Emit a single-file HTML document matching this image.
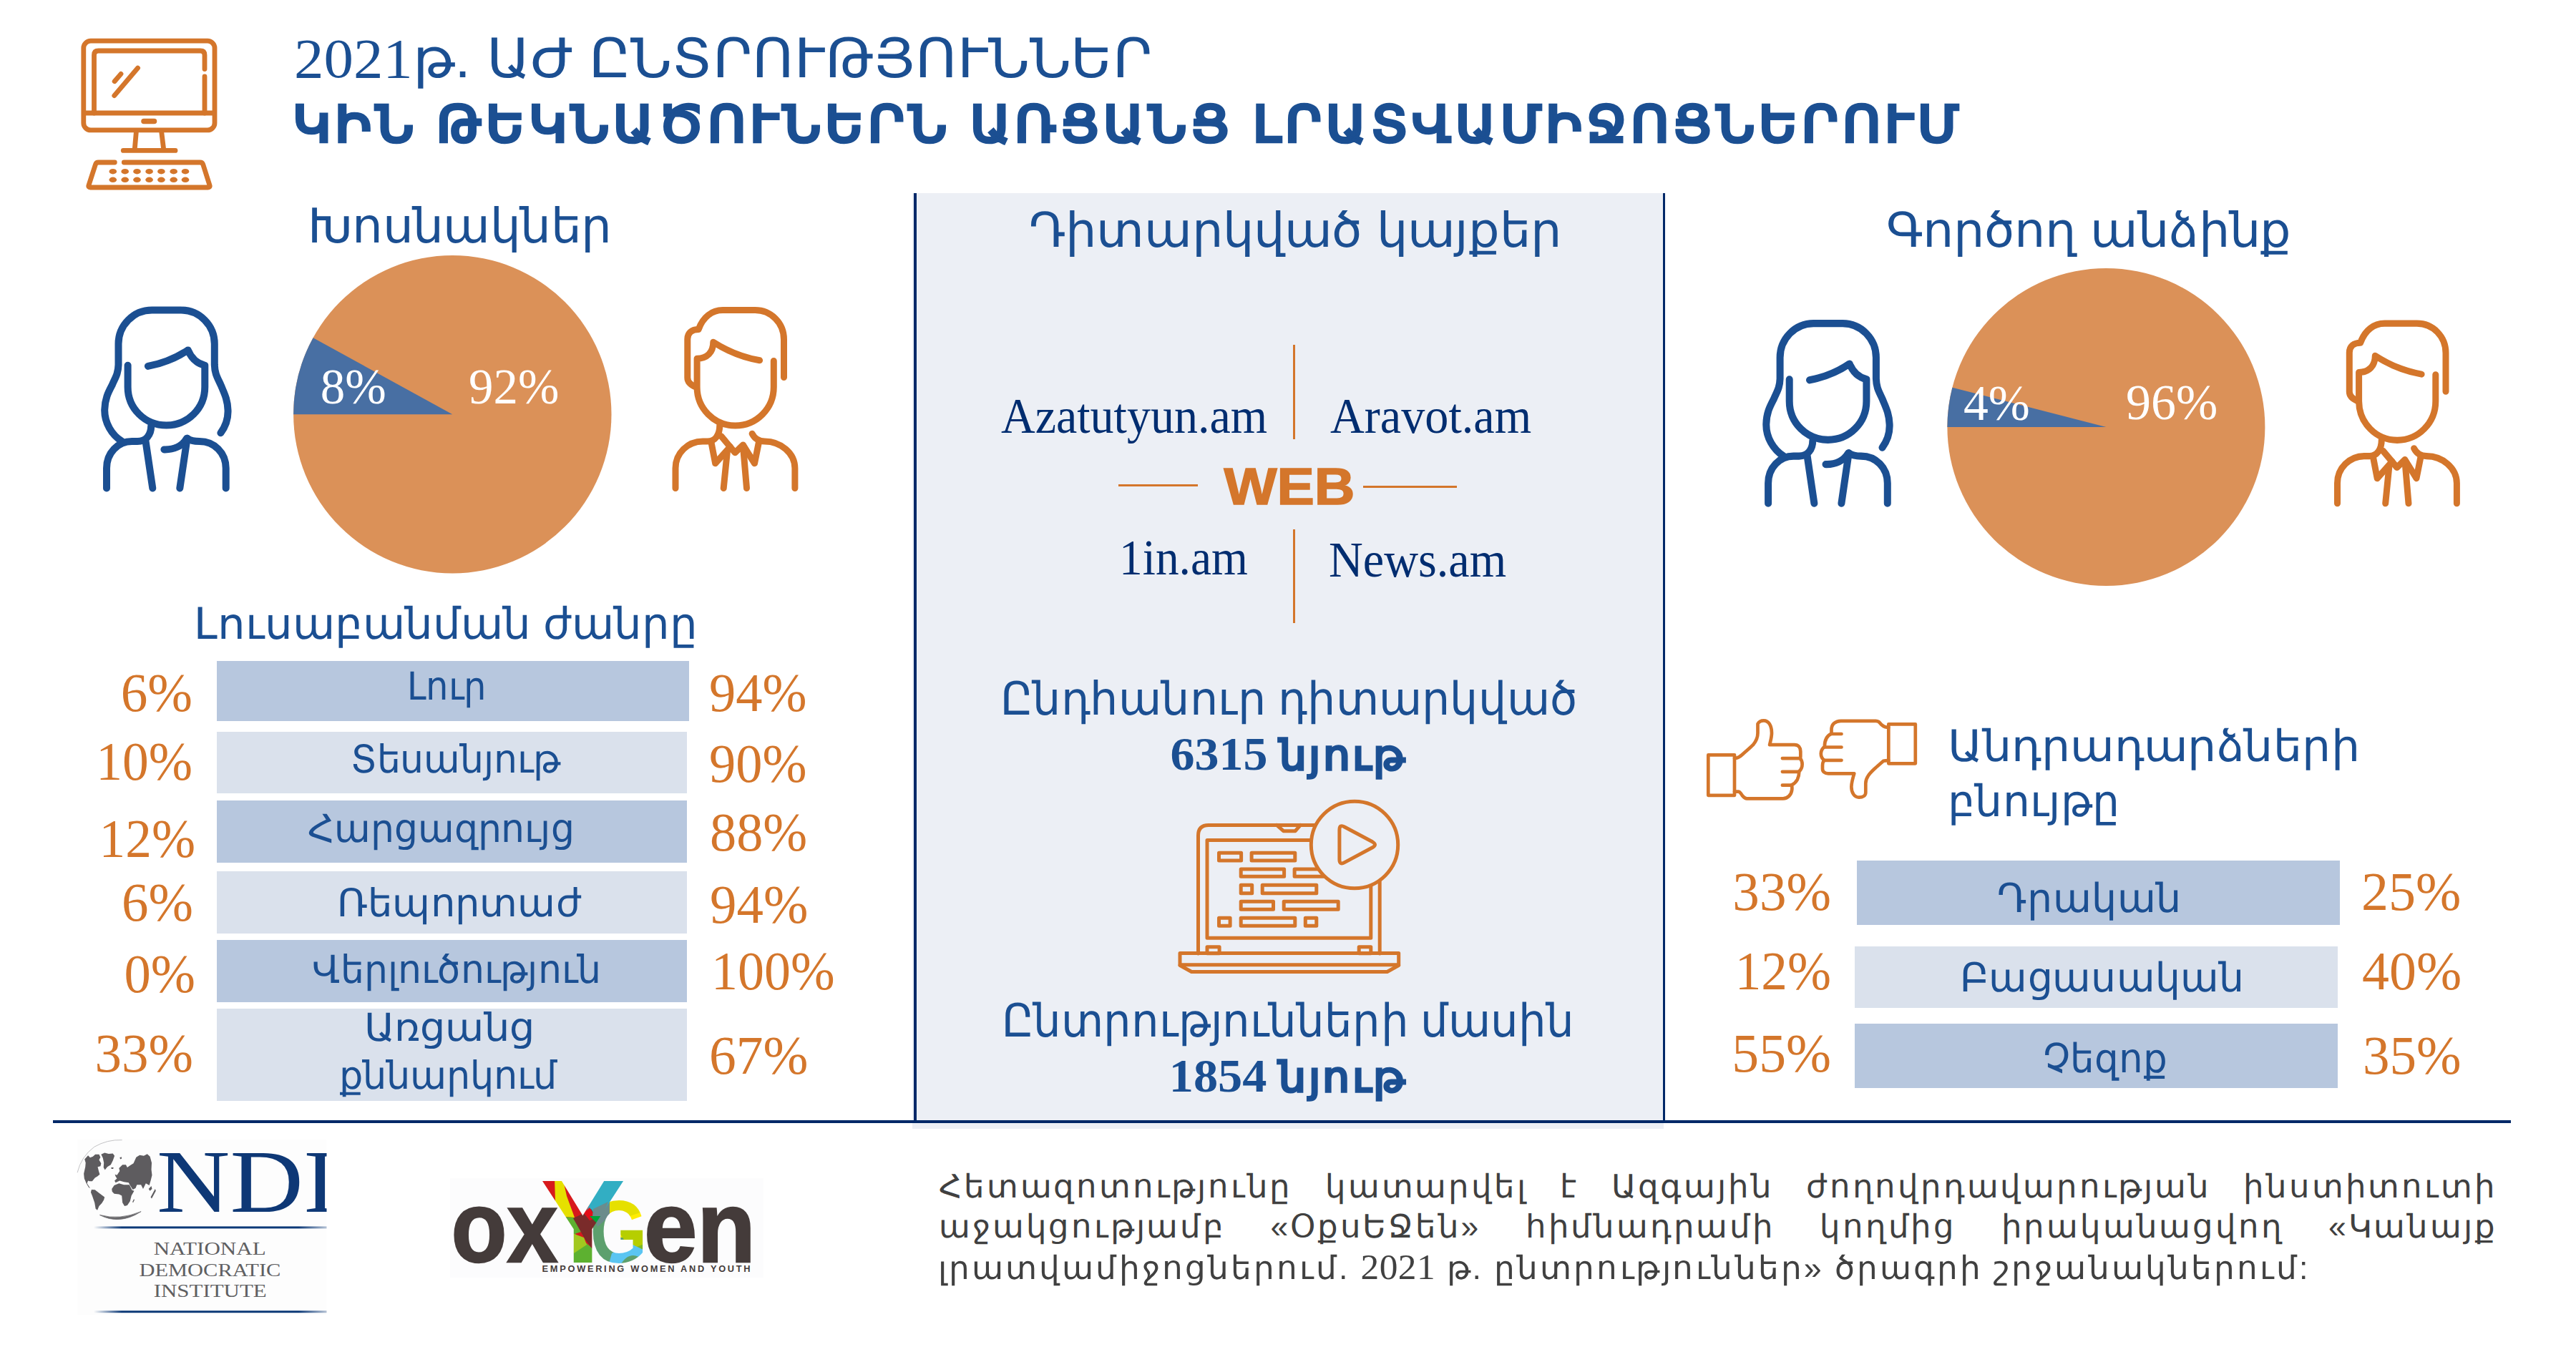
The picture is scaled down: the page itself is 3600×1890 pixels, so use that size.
<!DOCTYPE html>
<html lang="hy"><head><meta charset="utf-8"><title>2021թ. ԱԺ ընտրություններ</title>
<style>
html,body{margin:0;padding:0;background:#fff}
body{width:3600px;height:1890px;overflow:hidden;font-family:"Liberation Sans",sans-serif}
#page{position:relative;width:3600px;height:1890px;overflow:hidden;background:#fff}
.r{position:absolute}
.t{position:absolute;z-index:2;white-space:nowrap;line-height:1;font-family:"Liberation Sans",sans-serif}
.sf{font-family:"Liberation Serif",serif}
svg{position:absolute;left:0;top:0}
</style></head>
<body>
<div id="page">
<div class="r" style="left:1275px;top:270px;width:1050px;height:1308px;background:#ECEFF5"></div>
<div class="r" style="left:1277px;top:269.8px;width:3.6px;height:1299px;background:#002868"></div>
<div class="r" style="left:2323.6px;top:269.8px;width:3.3px;height:1299px;background:#002868"></div>
<div class="r" style="left:73.7px;top:1566.2px;width:3435px;height:3.8px;background:#002868"></div>
<div class="r" style="left:303.2px;top:924.1px;width:659.8px;height:83.5px;background:#B7C7DE"></div>
<div class="r" style="left:303.2px;top:1023.2px;width:656.5px;height:86.29999999999995px;background:#DAE1EC"></div>
<div class="r" style="left:303.2px;top:1119.3px;width:656.5px;height:86.40000000000009px;background:#B7C7DE"></div>
<div class="r" style="left:303.2px;top:1218.1px;width:656.5px;height:86.60000000000014px;background:#DAE1EC"></div>
<div class="r" style="left:303.2px;top:1314px;width:656.5px;height:86.5px;background:#B7C7DE"></div>
<div class="r" style="left:303.2px;top:1410.1px;width:656.5px;height:128.60000000000014px;background:#DAE1EC"></div>
<div class="r" style="left:2594.9px;top:1203px;width:675.1px;height:89.6px;background:#B7C7DE"></div>
<div class="r" style="left:2592.2px;top:1323.2px;width:674.6px;height:86.3px;background:#DAE1EC"></div>
<div class="r" style="left:2592.2px;top:1431.4px;width:674.6px;height:89.2px;background:#B7C7DE"></div>
<div class="t" id="t0" style="left:410.85px;top:41.64px;width:2400px;font-size:76px;color:#1B4F92;text-align:left;transform:scaleX(1.0493);transform-origin:0 0;"><span><span class="sf" style='font-size:79px;'>2021</span>թ. ԱԺ ԸՆՏՐՈՒԹՅՈՒՆՆԵՐ</span></div>
<div class="t" id="t1" style="left:408.88px;top:139.05px;width:2900px;font-size:70px;color:#1B4F92;text-align:left;letter-spacing:6px;transform:scaleX(1.0416);transform-origin:0 0;-webkit-text-stroke:4.6px #1B4F92;"><span>ԿԻՆ ԹԵԿՆԱԾՈՒՆԵՐՆ ԱՌՑԱՆՑ ԼՐԱՏՎԱՄԻՋՈՑՆԵՐՈՒՄ</span></div>
<div class="t" id="t2" style="left:-158.20px;top:282.28px;width:1600px;font-size:67px;color:#1B4F92;text-align:center;transform:scaleX(1.0093);transform-origin:50% 0;"><span>Խոսնակներ</span></div>
<div class="t" id="t3" style="left:-176.70px;top:842.16px;width:1600px;font-size:61px;color:#1B4F92;text-align:center;transform:scaleX(0.9993);transform-origin:50% 0;"><span>Լուսաբանման ժանրը</span></div>
<div class="t" id="t4" style="left:1009.62px;top:288.48px;width:1600px;font-size:67px;color:#1B4F92;text-align:center;transform:scaleX(1.0256);transform-origin:50% 0;"><span>Դիտարկված կայքեր</span></div>
<div class="t" id="t5" style="left:2118.51px;top:288.08px;width:1600px;font-size:67px;color:#1B4F92;text-align:center;transform:scaleX(1.0221);transform-origin:50% 0;"><span>Գործող անձինք</span></div>
<div class="t" id="t6" style="left:2721.79px;top:1013.16px;width:1600px;font-size:61px;color:#1B4F92;text-align:left;transform:scaleX(1.0382);transform-origin:0 0;"><span>Անդրադարձների</span></div>
<div class="t" id="t7" style="left:2722.10px;top:1090.46px;width:1600px;font-size:61px;color:#1B4F92;text-align:left;transform:scaleX(0.9813);transform-origin:0 0;"><span>բնույթը</span></div>
<div class="t sf" id="t8" style="left:447.80px;top:506.61px;width:300px;font-size:69px;color:#fff;text-align:left;"><span>8%</span></div>
<div class="t sf" id="t9" style="left:655.00px;top:506.61px;width:300px;font-size:69px;color:#fff;text-align:left;transform:scaleX(0.9984);transform-origin:0 0;"><span>92%</span></div>
<div class="t sf" id="t10" style="left:2744.38px;top:529.51px;width:300px;font-size:69px;color:#fff;text-align:left;transform:scaleX(1.0091);transform-origin:0 0;"><span>4%</span></div>
<div class="t sf" id="t11" style="left:2970.77px;top:528.71px;width:300px;font-size:69px;color:#fff;text-align:left;transform:scaleX(1.0132);transform-origin:0 0;"><span>96%</span></div>
<div class="t sf" id="t12" style="left:-30.65px;top:929.81px;width:300px;font-size:77px;color:#D4762B;text-align:right;transform:scaleX(0.9773);transform-origin:100% 0;"><span>6%</span></div>
<div class="t sf" id="t13" style="left:-30.70px;top:1025.81px;width:300px;font-size:77px;color:#D4762B;text-align:right;transform:scaleX(0.9549);transform-origin:100% 0;"><span>10%</span></div>
<div class="t sf" id="t14" style="left:-27.12px;top:1133.51px;width:300px;font-size:77px;color:#D4762B;text-align:right;transform:scaleX(0.9523);transform-origin:100% 0;"><span>12%</span></div>
<div class="t sf" id="t15" style="left:-30.45px;top:1223.41px;width:300px;font-size:77px;color:#D4762B;text-align:right;transform:scaleX(0.9735);transform-origin:100% 0;"><span>6%</span></div>
<div class="t sf" id="t16" style="left:-27.27px;top:1322.71px;width:300px;font-size:77px;color:#D4762B;text-align:right;transform:scaleX(0.9694);transform-origin:100% 0;"><span>0%</span></div>
<div class="t sf" id="t17" style="left:-30.45px;top:1433.81px;width:300px;font-size:77px;color:#D4762B;text-align:right;transform:scaleX(0.9735);transform-origin:100% 0;"><span>33%</span></div>
<div class="t sf" id="t18" style="left:991.48px;top:929.81px;width:300px;font-size:77px;color:#D4762B;text-align:left;transform:scaleX(0.9672);transform-origin:0 0;"><span>94%</span></div>
<div class="t sf" id="t19" style="left:991.48px;top:1029.11px;width:300px;font-size:77px;color:#D4762B;text-align:left;transform:scaleX(0.9672);transform-origin:0 0;"><span>90%</span></div>
<div class="t sf" id="t20" style="left:992.11px;top:1124.71px;width:300px;font-size:77px;color:#D4762B;text-align:left;transform:scaleX(0.9647);transform-origin:0 0;"><span>88%</span></div>
<div class="t sf" id="t21" style="left:991.86px;top:1226.01px;width:300px;font-size:77px;color:#D4762B;text-align:left;transform:scaleX(0.9730);transform-origin:0 0;"><span>94%</span></div>
<div class="t sf" id="t22" style="left:993.64px;top:1319.11px;width:300px;font-size:77px;color:#D4762B;text-align:left;transform:scaleX(0.9614);transform-origin:0 0;"><span>100%</span></div>
<div class="t sf" id="t23" style="left:990.86px;top:1436.51px;width:300px;font-size:77px;color:#D4762B;text-align:left;transform:scaleX(0.9801);transform-origin:0 0;"><span>67%</span></div>
<div class="t" id="t24" style="left:223.83px;top:932.39px;width:800px;font-size:54px;color:#1B4F92;text-align:center;transform:scaleX(0.9198);transform-origin:50% 0;"><span>Լուր</span></div>
<div class="t" id="t25" style="left:237.28px;top:1033.59px;width:800px;font-size:54px;color:#1B4F92;text-align:center;transform:scaleX(0.9638);transform-origin:50% 0;"><span>Տեսանյութ</span></div>
<div class="t" id="t26" style="left:215.86px;top:1130.59px;width:800px;font-size:54px;color:#1B4F92;text-align:center;transform:scaleX(0.9638);transform-origin:50% 0;"><span>Հարցազրույց</span></div>
<div class="t" id="t27" style="left:242.29px;top:1235.19px;width:800px;font-size:54px;color:#1B4F92;text-align:center;transform:scaleX(1.0060);transform-origin:50% 0;"><span>Ռեպորտաժ</span></div>
<div class="t" id="t28" style="left:238.28px;top:1327.69px;width:800px;font-size:54px;color:#1B4F92;text-align:center;transform:scaleX(0.9643);transform-origin:50% 0;"><span>Վերլուծություն</span></div>
<div class="t" id="t29" style="left:227.89px;top:1408.69px;width:800px;font-size:54px;color:#1B4F92;text-align:center;transform:scaleX(1.0314);transform-origin:50% 0;"><span>Առցանց</span></div>
<div class="t" id="t30" style="left:226.42px;top:1475.59px;width:800px;font-size:54px;color:#1B4F92;text-align:center;transform:scaleX(0.9713);transform-origin:50% 0;"><span>քննարկում</span></div>
<div class="t sf" id="t31" style="left:2258.95px;top:1208.31px;width:300px;font-size:77px;color:#D4762B;text-align:right;transform:scaleX(0.9750);transform-origin:100% 0;"><span>33%</span></div>
<div class="t sf" id="t32" style="left:2258.90px;top:1319.11px;width:300px;font-size:77px;color:#D4762B;text-align:right;transform:scaleX(0.9511);transform-origin:100% 0;"><span>12%</span></div>
<div class="t sf" id="t33" style="left:2258.96px;top:1433.91px;width:300px;font-size:77px;color:#D4762B;text-align:right;transform:scaleX(0.9822);transform-origin:100% 0;"><span>55%</span></div>
<div class="t sf" id="t34" style="left:3300.43px;top:1208.31px;width:300px;font-size:77px;color:#D4762B;text-align:left;transform:scaleX(0.9875);transform-origin:0 0;"><span>25%</span></div>
<div class="t sf" id="t35" style="left:3301.02px;top:1319.11px;width:300px;font-size:77px;color:#D4762B;text-align:left;transform:scaleX(0.9854);transform-origin:0 0;"><span>40%</span></div>
<div class="t sf" id="t36" style="left:3302.08px;top:1437.11px;width:300px;font-size:77px;color:#D4762B;text-align:left;transform:scaleX(0.9743);transform-origin:0 0;"><span>35%</span></div>
<div class="t" id="t37" style="left:2519.68px;top:1227.60px;width:800px;font-size:56px;color:#1B4F92;text-align:center;transform:scaleX(0.9889);transform-origin:50% 0;"><span>Դրական</span></div>
<div class="t" id="t38" style="left:2538.00px;top:1338.70px;width:800px;font-size:56px;color:#1B4F92;text-align:center;transform:scaleX(0.9848);transform-origin:50% 0;"><span>Բացասական</span></div>
<div class="t" id="t39" style="left:2541.61px;top:1452.30px;width:800px;font-size:56px;color:#1B4F92;text-align:center;transform:scaleX(0.9506);transform-origin:50% 0;"><span>Չեզոք</span></div>
<div class="t sf" id="t40" style="left:1398.61px;top:547.91px;width:700px;font-size:69px;color:#002D70;text-align:left;transform:scaleX(0.9567);transform-origin:0 0;"><span>Azatutyun.am</span></div>
<div class="t sf" id="t41" style="left:1859.00px;top:547.91px;width:700px;font-size:69px;color:#002D70;text-align:left;transform:scaleX(0.9592);transform-origin:0 0;"><span>Aravot.am</span></div>
<div class="t sf" id="t42" style="left:1563.70px;top:746.21px;width:700px;font-size:69px;color:#002D70;text-align:left;transform:scaleX(0.9481);transform-origin:0 0;"><span>1in.am</span></div>
<div class="t sf" id="t43" style="left:1856.65px;top:749.31px;width:700px;font-size:69px;color:#002D70;text-align:left;transform:scaleX(0.9591);transform-origin:0 0;"><span>News.am</span></div>
<div class="t" id="t44" style="left:1552.13px;top:643.21px;width:500px;font-size:73px;color:#D4762B;text-align:center;font-weight:bold;transform:scaleX(1.0751);transform-origin:50% 0;-webkit-text-stroke:1.6px #D4762B;"><span>WEB</span></div>
<div class="r" style="left:1806.8px;top:481.5px;width:3.4px;height:132.1px;background:#D4762B"></div>
<div class="r" style="left:1806.8px;top:739.8px;width:3.4px;height:131.7px;background:#D4762B"></div>
<div class="r" style="left:1562.6px;top:677px;width:111.1px;height:3.4px;background:#D4762B"></div>
<div class="r" style="left:1904.7px;top:678.5px;width:131.8px;height:3.4px;background:#D4762B"></div>
<div class="t" id="t45" style="left:1000.92px;top:944.92px;width:1600px;font-size:64px;color:#1B4F92;text-align:center;transform:scaleX(0.9676);transform-origin:50% 0;"><span>Ընդհանուր դիտարկված</span></div>
<div class="t" id="t46" style="left:1400.88px;top:1021.43px;width:800px;font-size:58px;color:#1B4F92;text-align:center;transform:scaleX(1.0305);transform-origin:50% 0;"><span><b class="sf" style="font-size:66px">6315</b> <span style="-webkit-text-stroke:3.4px #1B4F92;letter-spacing:3px">նյութ</span></span></div>
<div class="t" id="t47" style="left:1000.18px;top:1394.92px;width:1600px;font-size:64px;color:#1B4F92;text-align:center;transform:scaleX(0.9515);transform-origin:50% 0;"><span>Ընտրությունների մասին</span></div>
<div class="t" id="t48" style="left:1399.92px;top:1471.42px;width:800px;font-size:58px;color:#1B4F92;text-align:center;transform:scaleX(1.0352);transform-origin:50% 0;"><span><b class="sf" style="font-size:66px">1854</b> <span style="-webkit-text-stroke:3.4px #1B4F92;letter-spacing:3px">նյութ</span></span></div>
<div class="t" id="t49" style="left:1312.30px;top:1637.23px;width:2177.1px;font-size:44.5px;color:#404040;text-align:left;letter-spacing:2.8px;text-align-last:justify;"><span>Հետազոտությունը կատարվել է Ազգային ժողովրդավարության ինստիտուտի</span></div>
<div class="t" id="t50" style="left:1312.30px;top:1693.43px;width:2177.1px;font-size:44.5px;color:#404040;text-align:left;letter-spacing:2.8px;text-align-last:justify;"><span>աջակցությամբ «ՕքսԵՋեն» հիմնադրամի կողմից իրականացվող «Կանայք</span></div>
<div class="t" id="t51" style="left:1311.37px;top:1745.69px;width:2400px;font-size:44.5px;color:#404040;text-align:left;letter-spacing:2.8px;transform:scaleX(1.0077);transform-origin:0 0;"><span>լրատվամիջոցներում. <span class="sf" style="font-size:51px;letter-spacing:0.5px">2021</span> թ. ընտրություններ» ծրագրի շրջանակներում:</span></div>
<svg width="3600" height="1890" viewBox="0 0 3600 1890">
<defs>
  <!-- woman icon, local coords (origin = top-left of 230x290 box) -->
  <g id="woman" fill="none" stroke="#1B4F92" stroke-width="10" stroke-linecap="round" stroke-linejoin="round">
    <path d="M188.4 195.2 C196 185 199 174 198.5 163 C198 148 193 139 188.8 128.7 C184 118 180.2 113 179.8 100 L179.8 70.8 C179.8 45 159 23.6 133 23.6 L92.3 23.6 C66.3 23.6 45.5 45 45.5 70.8 L45.5 100 C45.1 113 41 118 36.5 128.7 C31 139 26.5 148 26.2 163 C26 181 36 198 50.5 207"/>
    <path d="M58.6 100.8 L58.6 131 C58.6 161 82.6 184.5 112.5 184.5 C142.3 184.5 166.3 161 166.3 131 L166.3 100.8 C155 98 147 90 142.7 79.4 C126 90.5 108 98 86.9 101.9"/>
    <path d="M91.2 185.6 C91.2 198 84 207 72 207 L64.4 207 C44.8 207 29 223 29 244.6 L29 272.5"/>
    <path d="M83.4 206 L93.3 272.5"/>
    <path d="M131.3 272.5 L141.6 202.7"/>
    <path d="M141.6 202.7 C146 206 152 207 158.8 207 C179.5 207 195.7 223 195.7 244.6 L195.7 272.5"/>
    <path d="M109.4 218.4 C123 218.8 134.5 213.5 140.8 203.2"/>
  </g>
  <!-- man icon -->
  <g id="man" fill="none" stroke="#D4762B" stroke-width="9" stroke-linecap="round" stroke-linejoin="round">
    <path d="M175.5 117.6 L175.5 64.4 C175.5 41.5 157.5 23.6 135.2 23.6 L90.1 23.6 C75 23.6 62.5 33 56.2 50.4 C47 50.4 40.8 55 40.8 64 L40.8 118 C40.8 124 45 128 52.5 131"/>
    <path d="M161.3 94.4 L161.3 131 C161.3 161 137.3 185 107.6 185 C78 185 54.1 161 54.1 131 L54.1 91.2 C68 91.2 76.8 82.5 76.8 68.2 C96 80.5 117 89.5 141.6 93.8"/>
    <path d="M85.8 184.5 C85.8 198 79.5 207 68.7 207 L62.2 207 C41 207 24 223.5 24 244.6 L24 272.5"/>
    <path d="M74.1 209 L79.7 237.8 L100.5 214.5"/>
    <path d="M87.8 199.7 L107.3 222.8 L118.4 212 L134.5 237.8 L140.5 208"/>
    <path d="M131.1 196.3 C134.5 203 140.5 207 148.6 207 C171 207 190.9 223.5 190.9 244.6 L190.9 272.5"/>
    <path d="M96.4 221 L91.2 272.5"/>
    <path d="M118.4 213 L123.5 272.5"/>
  </g>
</defs>

<!-- PIE LEFT -->
<circle cx="632.3" cy="579.2" r="222.2" fill="#DB9158"/>
<path d="M632.3 579.2 L410.1 579.2 A222.2 222.2 0 0 1 437.6 472.2 Z" fill="#486FA3"/>
<!-- PIE RIGHT -->
<circle cx="2943.4" cy="596.9" r="222" fill="#DB9158"/>
<path d="M2943.4 596.9 L2721.4 596.9 A222 222 0 0 1 2728.4 541.7 Z" fill="#486FA3"/>

<!-- MONITOR ICON -->
<g fill="none" stroke="#D4762B" stroke-width="6.8" stroke-linecap="round" stroke-linejoin="round">
  <rect x="116.8" y="57.2" width="183.2" height="124.7" rx="10" ry="10"/>
  <path d="M300 158 L116.8 158" stroke-linecap="butt"/>
  <path d="M131.5 158 L131.5 77 Q131.5 71 137.5 71 L280 71 Q286 71 286 77 L286 96.5"/>
  <path d="M286 107 L286 158"/>
  <path d="M201 169.5 L215.5 169.5" stroke-width="7.5"/>
  <path d="M190.3 185.2 L188.3 208"/>
  <path d="M225.8 185.2 L228.6 208"/>
  <path d="M172.3 210.4 L245 210.4"/>
  <path d="M160.3 227 L137.5 227 Q134.4 227 133.4 230 L124 259 Q123 262 126.3 262 L290.7 262 Q294 262 293 259 L283.8 230 Q282.8 227 279.5 227 L173.3 227"/>
  <path d="M160.1 113.7 L169 103.4"/>
  <path d="M159.8 133.6 L192.6 95"/>
</g>
<g fill="#D4762B">
  <ellipse cx="157.8" cy="239.7" rx="5.3" ry="3.7"/><ellipse cx="174.7" cy="239.7" rx="5.3" ry="3.7"/><ellipse cx="191.5" cy="239.7" rx="5.3" ry="3.7"/><ellipse cx="208.6" cy="239.7" rx="5.3" ry="3.7"/><ellipse cx="225.4" cy="239.7" rx="5.3" ry="3.7"/><ellipse cx="242.7" cy="239.7" rx="5.3" ry="3.7"/><ellipse cx="259" cy="239.7" rx="5.3" ry="3.7"/>
  <ellipse cx="157.8" cy="251.3" rx="5.3" ry="3.7"/><ellipse cx="174.7" cy="251.3" rx="5.3" ry="3.7"/><ellipse cx="191.5" cy="251.3" rx="5.3" ry="3.7"/><ellipse cx="208.6" cy="251.3" rx="5.3" ry="3.7"/><ellipse cx="225.4" cy="251.3" rx="5.3" ry="3.7"/><ellipse cx="242.7" cy="251.3" rx="5.3" ry="3.7"/><ellipse cx="259" cy="251.3" rx="5.3" ry="3.7"/>
</g>

<!-- PEOPLE -->
<use href="#woman" x="120" y="410"/>
<use href="#man" x="920" y="410"/>
<use href="#woman" transform="translate(2442.1 428.3) scale(1 1.011)"/>
<use href="#man" transform="translate(3242.5 428.3) scale(1 1.011)"/>

<!-- LAPTOP ICON -->
<g transform="translate(1630 1100)" fill="none" stroke="#D4762B" stroke-width="5" stroke-linejoin="round" stroke-linecap="round">
  <path d="M44.5 233 L44.5 68 Q44.5 53.4 59 53.4 L283.5 53.4 Q298.2 53.4 298.2 68 L298.2 233"/>
  <path d="M154.3 53.4 L163.6 61.7 L180.2 61.7 L187.4 53.4"/>
  <rect x="57" y="74.6" width="228.8" height="136.6"/>
  <rect x="73.5" y="92.2" width="31.1" height="10.7"/><rect x="119.1" y="92.2" width="60.7" height="10.7"/>
  <rect x="104.2" y="114.9" width="60.4" height="10.4"/><rect x="179.1" y="114.9" width="50" height="10.4"/>
  <rect x="104.2" y="137.3" width="15.5" height="11.4"/><rect x="134.2" y="137.3" width="75.6" height="11.4"/>
  <rect x="104.2" y="160.3" width="45.3" height="11"/><rect x="164.2" y="160.3" width="76" height="11"/>
  <rect x="73.5" y="183.2" width="15.6" height="11"/><rect x="104.2" y="183.2" width="75.6" height="11"/><rect x="194.3" y="183.2" width="15.5" height="11"/>
  <rect x="57" y="223.7" width="17.1" height="9"/><rect x="269.2" y="223.7" width="16.6" height="9"/>
  <rect x="19" y="232.6" width="305.7" height="16.2"/>
  <path d="M19 249.5 L35.2 258.5 L308.6 258.5 L324.7 249.5"/>
  <circle cx="263" cy="81" r="60.7" fill="#ECEFF5"/>
  <path d="M241.9 60 Q241.9 52 249 56 L288 76.8 Q295 80.8 288 84.8 L249 105.6 Q241.9 109.6 241.9 101.6 Z"/>
</g>

<!-- THUMBS -->
<g transform="translate(2370 990)" fill="none" stroke="#D4762B" stroke-width="4.7" stroke-linejoin="round" stroke-linecap="round">
  <rect x="17.3" y="65.4" width="36.7" height="56.4"/>
  <path d="M54 69.9 C58.5 69.9 62.5 67.2 66.1 63.7 C70.5 59.8 75.5 55.8 80 51.2 C84 46.5 86.5 41 86.5 34.8 L86.5 21.8 C88.2 18.8 91.5 17.3 94.9 17.3 C101.5 17.3 106 24 106 34.8 C106 40.5 104.3 46 103.1 51.2 L137.7 51.2 C143.5 51.2 146.3 55 146.3 60.5 L146.3 67.5 C146.3 68.5 146.1 69.5 145.9 70.4 C147.8 72.5 148.6 75.5 148.6 78.5 C148.6 82.5 146.8 86 144.4 88.3 C144.2 93 143.5 96.5 141.8 99.8 C140 103 137 105.8 133.8 107.3 C134.5 109.5 134.5 111.5 134.3 113.7 C133.5 121 128.5 126.3 121.8 126.3 L71.3 126.3 C68.5 126.3 66.8 124.5 65.2 122.5 C63.5 120.3 62 116.7 59.3 116.7 L54 116.7"/>
  <path d="M120.9 70.1 L145.9 70.1 M120.9 88.8 L144 88.8 M120.9 107.7 L133.8 107.7"/>
  <rect x="269.3" y="22.3" width="37.5" height="55"/>
  <path d="M269.3 26.9 C264 26.9 261.5 25 259.7 23.3 C258 21.5 256.5 19.8 255.4 18.9 C254 17.9 252.8 17.8 251.5 17.8 L202.5 17.8 C195 17.8 189.5 22.5 189.5 29.5 L189.5 35.6 C184 38 179.9 44 179.9 53.6 C176.5 56.5 174.8 60 174.8 63.4 C174.8 67 176.5 70.5 179.4 72.8 C177.5 75 177 77.5 177 80 L177 84.8 C177 88.8 180 91.3 185 91.3 L221.3 91.3 C219.5 97 217.6 103 217.4 109.5 C217.2 118 221.5 124.7 228 124.7 C233.5 124.7 237.3 122 237.3 118 L237.3 105 C237.3 97 243 91 249.6 84.8 C253 81.6 258 77.5 262.1 73.8 C264.5 73.1 267 73.1 269.3 73.1"/>
  <path d="M189.5 36 L203.5 36 M179.9 54.5 L203.5 54.5 M178.5 72.8 L203.5 72.8"/>
</g>
</svg>

<svg width="3600" height="1890" viewBox="0 0 3600 1890" style="z-index:3">
<defs>
  <clipPath id="yclip"><text x="755" y="1764.9" font-family="Liberation Sans, sans-serif" font-weight="bold" font-size="165" textLength="119" lengthAdjust="spacingAndGlyphs" stroke="#000" stroke-width="2.5">Y</text></clipPath>
  <clipPath id="gclip"><text x="824.5" y="1764.9" font-family="Liberation Sans, sans-serif" font-weight="bold" font-size="124" textLength="80" lengthAdjust="spacingAndGlyphs">G</text></clipPath>
  <linearGradient id="ndiline" x1="0" x2="1" y1="0" y2="0">
    <stop offset="0" stop-color="#0D3A78" stop-opacity="0"/><stop offset="0.12" stop-color="#0D3A78"/><stop offset="0.88" stop-color="#0D3A78"/><stop offset="1" stop-color="#0D3A78" stop-opacity="0.3"/>
  </linearGradient>
  <clipPath id="ndiclip"><rect x="100" y="1590" width="356.5" height="250"/></clipPath>
</defs>

<!-- ============ NDI logo ============ -->
<rect x="108" y="1593" width="348" height="245" fill="#FDFDFD"/>
<g transform="translate(100 1585) scale(0.09615)">
  <path d="M85 560 Q140 330 330 190 Q520 80 730 90" fill="none" stroke="#B9B9BC" stroke-width="9" stroke-linecap="round"/>
  <path d="M410 1180 Q700 1330 1010 1130 Q700 1260 410 1180 Z" fill="#6A696C" stroke="#6A696C" stroke-width="8" stroke-linejoin="round"/>
  <g fill="#5E5C5F">
    <path d="M190 370 L240 315 L270 345 L310 330 L345 300 L400 300 L420 340 L400 380 L430 430 L420 470 L380 480 L395 540 L410 590 L375 620 L340 640 L300 690 L260 690 L240 680 L225 720 L270 790 L250 780 L215 720 L185 650 L178 580 L200 480 L205 420 Z"/>
    <path d="M430 300 L480 275 L540 290 L600 285 L625 320 L600 390 L570 450 L520 480 L485 525 L465 490 L470 420 L455 350 Z"/>
    <path d="M290 810 L340 815 L400 860 L480 920 L470 960 L440 1010 L400 1050 L375 1110 L350 1090 L335 1000 L300 900 L280 850 Z"/>
    <path d="M630 590 L660 600 L700 540 L690 500 L740 450 L790 450 L810 490 L850 460 L900 430 L940 340 L990 310 L1050 320 L1100 295 L1140 330 L1165 420 L1160 520 L1170 600 L1150 680 L1130 750 L1080 720 L1040 800 L1010 740 L950 740 L930 790 L890 810 L850 750 L830 710 L760 700 L700 680 L640 710 L625 680 L660 650 L640 620 Z"/>
    <path d="M585 800 L620 750 L690 720 L760 740 L840 740 L880 820 L910 830 L870 900 L850 980 L810 1040 L770 1050 L740 1000 L730 900 L690 880 L620 870 L590 840 Z"/>
    <path d="M885 990 L905 950 L915 960 L895 1000 Z"/>
    <path d="M1150 920 L1215 800 L1225 830 L1165 940 Z"/>
    <path d="M1120 800 L1160 760 L1170 800 L1140 830 Z"/>
    <path d="M700 345 L725 335 L730 360 L710 370 Z"/>
    <path d="M575 490 L610 490 L605 510 L580 510 Z"/>
  </g>
</g>
<g clip-path="url(#ndiclip)">
  <text x="219" y="1694.2" font-family="Liberation Serif, serif" font-size="124" fill="#0E3876" textLength="252" lengthAdjust="spacingAndGlyphs">NDI</text>
</g>
<rect x="131" y="1714.4" width="325.5" height="3" fill="url(#ndiline)"/>
<rect x="131" y="1832.2" width="325.5" height="3" fill="url(#ndiline)"/>
<g font-family="Liberation Serif, serif" font-size="26" fill="#5F6062" text-anchor="middle">
  <text x="293.2" y="1753.7" textLength="157" lengthAdjust="spacingAndGlyphs">NATIONAL</text>
  <text x="293.4" y="1783.7" textLength="198" lengthAdjust="spacingAndGlyphs">DEMOCRATIC</text>
  <text x="293.7" y="1813.2" textLength="158" lengthAdjust="spacingAndGlyphs">INSTITUTE</text>
</g>

<!-- ============ OxYGen logo ============ -->
<rect x="629" y="1647" width="438" height="139" fill="#FCFCFD"/>
<g font-family="Liberation Sans, sans-serif" font-weight="bold" fill="#443B3A">
  <text x="630.5" y="1763.8" font-size="141" textLength="149" lengthAdjust="spacingAndGlyphs" stroke="#443B3A" stroke-width="2.4">ox</text>
  <text x="900" y="1763.8" font-size="141" textLength="156" lengthAdjust="spacingAndGlyphs" stroke="#443B3A" stroke-width="2.4">en</text>
  <text x="757.6" y="1778.4" font-size="12.8" textLength="291" lengthAdjust="spacing">EMPOWERING WOMEN AND YOUTH</text>
</g>
<g clip-path="url(#gclip)">
  <rect x="820" y="1670" width="90" height="100" fill="#5DA06E"/>
  <path d="M845 1670 L910 1670 L910 1730 L862 1730 L850 1700 Z" fill="#E6E000"/>
  <path d="M880 1700 L910 1690 L910 1728 L862 1728 Z" fill="#FFEC00"/>
  <path d="M862 1718 L910 1718 L910 1760 L880 1745 L870 1730 Z" fill="#B6CE00"/>
  <path d="M885 1745 L910 1735 L910 1752 L895 1756 Z" fill="#7DB928"/>
  <path d="M855 1752 L880 1738 L910 1752 L910 1770 L850 1770 Z" fill="#5BC5F2"/>
  <path d="M866 1770 Q880 1745 900 1762 L900 1770 Z" fill="#5DA06E"/>
  <path d="M828 1690 L852 1678 L852 1700 L835 1715 Z" fill="#6B8C8C"/>
</g>
<g clip-path="url(#yclip)">
  <rect x="750" y="1645" width="130" height="125" fill="#5DB130"/>
  <path d="M750 1645 L800 1645 L835 1700 L828 1745 L800 1722 L780 1700 Z" fill="#D7191C"/>
  <path d="M775 1645 L786 1645 L792 1672 L803 1702 L787 1701 L776 1680 Z" fill="#E6E000"/>
  <path d="M787 1701 L803 1702 L812 1722 L800 1726 Z" fill="#5DB130"/>
  <path d="M818 1696 L842 1645 L880 1645 L880 1670 L838 1728 Z" fill="#32AEC3"/>
  <path d="M801 1703 L816 1696 L826 1690 L836 1706 L828 1724 L827 1745 L818 1733 Z" fill="#7A2B2A"/>
  <path d="M816 1696 L824 1688 L833 1703 L824 1706 Z" fill="#E30D18"/>
  <path d="M824 1700 L842 1700 L836 1712 Z" fill="#00A538"/>
  <path d="M829 1690 L850 1680 L842 1700 L828 1700 Z" fill="#6B8C8C"/>
  <path d="M800 1724 L816 1730 L820 1740 L802 1752 Z" fill="#A2C81F"/>
</g>
</svg>

</div>
</body></html>
